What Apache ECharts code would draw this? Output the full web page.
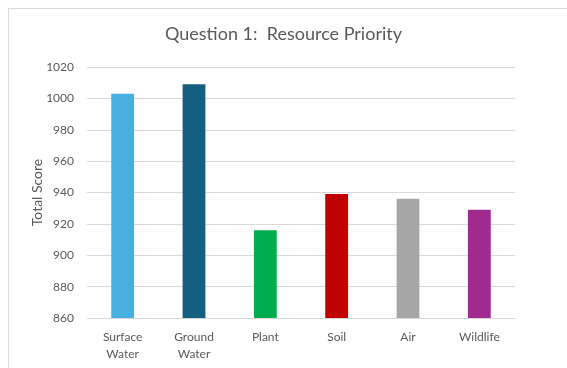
<!DOCTYPE html>
<html>
<head>
<meta charset="utf-8">
<script src="https://cdn.jsdelivr.net/npm/echarts@6/dist/echarts.min.js"></script>
<style>
  html, body { margin: 0; padding: 0; background: #fff; }
  #frame { position: absolute; left: 8px; top: 8px; width: 600px; height: 400px; border: 1px solid #d9d9d9; }
  #chart { position: absolute; left: 0; top: 0; width: 567px; height: 368px; }
</style>
</head>
<body>
<div id="frame"></div>
<div id="chart"></div>
<script>
var categories = ['Surface\nWater', 'Ground\nWater', 'Plant', 'Soil', 'Air', 'Wildlife'];
var scores = [1003, 1009, 916, 939, 936, 929];
var barColors = ['#47b0e0', '#165e80', '#00ad4e', '#c00000', '#a6a6a6', '#a12a90'];

var option = {
    animation: false,
    textStyle: { fontFamily: 'Lato, "Noto Sans", sans-serif' },
    title: {
        text: 'Question 1:  Resource Priority',
        left: 'center',
        top: 20,
        textStyle: { color: '#595959', fontSize: 18, fontWeight: 'normal', fontFamily: 'Lato, "Noto Sans", sans-serif' }
    },
    grid: { left: 87, right: 52, top: 67, bottom: 50 },
    xAxis: {
        type: 'category',
        data: categories,
        axisLine: { lineStyle: { color: '#d9d9d9' } },
        axisTick: { show: false },
        axisLabel: { color: '#595959', fontSize: 12, lineHeight: 17, margin: 11 }
    },
    yAxis: {
        type: 'value',
        min: 860,
        max: 1020,
        interval: 20,
        name: 'Total Score',
        nameLocation: 'middle',
        nameGap: 43,
        nameMoveOverlap: false,
        nameTextStyle: { color: '#595959', fontSize: 14 },
        axisLabel: {
            color: '#595959', fontSize: 12, margin: 13,
            formatter: function (v) { return String(v); }
        },
        splitLine: { lineStyle: { color: '#d9d9d9' } }
    },
    series: [{
        type: 'bar',
        barWidth: '32%',
        data: scores.map(function (v, i) {
            return { value: v, itemStyle: { color: barColors[i] } };
        })
    }]
};

var myChart = echarts.init(document.getElementById('chart'));
myChart.setOption(option);
</script>
</body>
</html>
